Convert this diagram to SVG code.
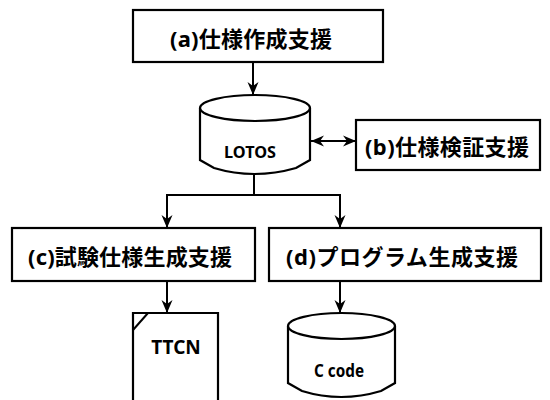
<svg xmlns="http://www.w3.org/2000/svg" width="550" height="400" viewBox="0 0 550 400">
<style>
.box{fill:#fff;stroke:#000;stroke-width:2.2}
.ln{fill:none;stroke:#000;stroke-width:2}
.jp{font-family:"Noto Sans","Noto Sans CJK JP",sans-serif;font-weight:bold;font-size:22px;fill:#000;text-anchor:middle;dominant-baseline:central}
.lt{font-family:"Noto Sans",sans-serif;font-weight:bold;fill:#000;text-anchor:middle;dominant-baseline:central}
</style>
<defs>
<marker id="ah" markerUnits="userSpaceOnUse" markerWidth="13" markerHeight="14" viewBox="0 0 13 14" refX="13" refY="7" orient="auto-start-reverse">
<path d="M0,1.5 L13,7 L0,12.5 L4,7 Z" fill="#000"/>
</marker>
</defs>
<g id="connectors">
<line class="ln" x1="253" y1="62" x2="253" y2="95" marker-end="url(#ah)"/>
<line class="ln" x1="311" y1="141" x2="356" y2="141" marker-start="url(#ah)" marker-end="url(#ah)"/>
<polyline class="ln" points="254,174 254,195"/>
<polyline class="ln" points="167,228 167,195 340,195 340,228" marker-start="url(#ah)" marker-end="url(#ah)"/>
<line class="ln" x1="167" y1="281" x2="167" y2="313" marker-end="url(#ah)"/>
<line class="ln" x1="340" y1="281" x2="340" y2="313" marker-end="url(#ah)"/>
</g>
<g id="node-a">
<rect class="box" x="133" y="10" width="250" height="52"/>
<text class="jp" x="251" y="38" textLength="162" lengthAdjust="spacing">(a)仕様作成支援</text>
</g>
<g id="node-lotos">
<path class="box" d="M200,108 V160 L214,168 Q254,180 296,168 L310,160 V108"/>
<ellipse class="box" cx="255" cy="108" rx="55" ry="13"/>
<text class="lt" x="250" y="152" font-size="16" textLength="52" lengthAdjust="spacingAndGlyphs">LOTOS</text>
</g>
<g id="node-b">
<rect class="box" x="356" y="120" width="184" height="50"/>
<text class="jp" x="447" y="146" textLength="164" lengthAdjust="spacing">(b)仕様検証支援</text>
</g>
<g id="node-c">
<rect class="box" x="12" y="228" width="243" height="53"/>
<text class="jp" x="130" y="256" textLength="204" lengthAdjust="spacing">(c)試験仕様生成支援</text>
</g>
<g id="node-d">
<rect class="box" x="269" y="228" width="272" height="53"/>
<text class="jp" x="402" y="256" textLength="232" lengthAdjust="spacing">(d)プログラム生成支援</text>
</g>
<g id="node-ttcn">
<polyline class="box" points="133,402 133,313 218,313 218,402"/>
<line class="ln" x1="133" y1="330" x2="148" y2="313"/>
<text class="lt" x="176" y="347" font-size="19">TTCN</text>
</g>
<g id="node-ccode">
<path class="box" d="M288,326 V383 L302,391 Q341,403 381,391 L395,383 V326"/>
<ellipse class="box" cx="341.5" cy="326" rx="53.5" ry="13"/>
<text class="lt" x="339" y="370" font-size="17" textLength="50" lengthAdjust="spacingAndGlyphs">C code</text>
</g>
</svg>
